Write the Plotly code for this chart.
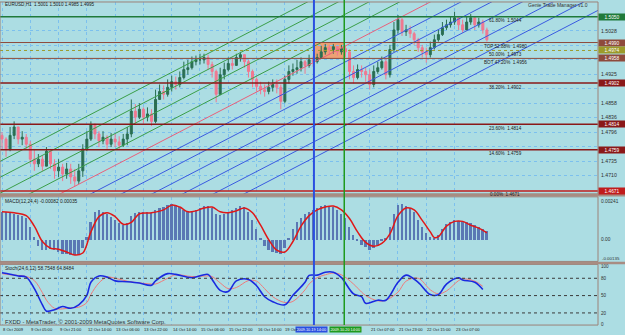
import plotly.graph_objects as go

# ---------------- data ----------------
close = [1.4782, 1.4761, 1.4790, 1.4808, 1.4782, 1.4786, 1.4771, 1.4739, 1.4729, 1.4739,
         1.4724, 1.4756, 1.4729, 1.4714, 1.4722, 1.4707, 1.4718, 1.4701, 1.4692, 1.4714,
         1.4761, 1.4782, 1.4812, 1.4793, 1.4778, 1.4786, 1.4771, 1.4782, 1.4776, 1.4769,
         1.4782, 1.4793, 1.4842, 1.4829, 1.4846, 1.4829, 1.4836, 1.4820, 1.4867, 1.4884,
         1.4878, 1.4893, 1.4905, 1.4899, 1.4914, 1.4931, 1.4935, 1.4948, 1.4952, 1.4952,
         1.4957, 1.4942, 1.4927, 1.4878, 1.4920, 1.4931, 1.4944, 1.4940, 1.4957, 1.4963,
         1.4948, 1.4927, 1.4910, 1.4895, 1.4888, 1.4884, 1.4893, 1.4899, 1.4893, 1.4863,
         1.4910, 1.4927, 1.4931, 1.4935, 1.4948, 1.4940, 1.4952, 1.4948, 1.4957, 1.4969,
         1.4978, 1.4974, 1.4980, 1.4969, 1.4976, 1.4969, 1.4927, 1.4914, 1.4931, 1.4927,
         1.4920, 1.4899, 1.4927, 1.4935, 1.4948, 1.4920, 1.4974, 1.5016, 1.5038, 1.5012,
         1.5016, 1.5008, 1.4995, 1.4978, 1.4969, 1.4963, 1.4978, 1.4995, 1.5006, 1.5021,
         1.5027, 1.5033, 1.5042, 1.5027, 1.5016, 1.5033, 1.5042, 1.5027, 1.5033, 1.5016,
         1.4995]
high = [1.4797, 1.4786, 1.4808, 1.4820, 1.4808, 1.4799, 1.4793, 1.4778, 1.4761, 1.4750,
        1.4746, 1.4765, 1.4761, 1.4739, 1.4739, 1.4729, 1.4731, 1.4729, 1.4718, 1.4729,
        1.4771, 1.4799, 1.4820, 1.4816, 1.4799, 1.4799, 1.4790, 1.4795, 1.4793, 1.4788,
        1.4793, 1.4808, 1.4867, 1.4857, 1.4859, 1.4850, 1.4850, 1.4846, 1.4888, 1.4899,
        1.4897, 1.4910, 1.4918, 1.4916, 1.4927, 1.4948, 1.4952, 1.4959, 1.4961, 1.4965,
        1.4965, 1.4963, 1.4948, 1.4931, 1.4935, 1.4946, 1.4957, 1.4957, 1.4965, 1.4969,
        1.4963, 1.4952, 1.4931, 1.4914, 1.4905, 1.4899, 1.4905, 1.4910, 1.4910, 1.4899,
        1.4918, 1.4940, 1.4944, 1.4952, 1.4957, 1.4952, 1.4963, 1.4959, 1.4965, 1.4982,
        1.4986, 1.4984, 1.4986, 1.4982, 1.4984, 1.4982, 1.4974, 1.4940, 1.4942, 1.4940,
        1.4935, 1.4931, 1.4940, 1.4948, 1.4959, 1.4957, 1.4984, 1.5033, 1.5048, 1.5042,
        1.5027, 1.5025, 1.5012, 1.4999, 1.4984, 1.4978, 1.4991, 1.5006, 1.5016, 1.5033,
        1.5038, 1.5044, 1.5055, 1.5044, 1.5038, 1.5044, 1.5050, 1.5046, 1.5042, 1.5038,
        1.5021]
low = [1.4761, 1.4744, 1.4756, 1.4782, 1.4771, 1.4769, 1.4761, 1.4729, 1.4714, 1.4722,
       1.4714, 1.4729, 1.4718, 1.4697, 1.4701, 1.4692, 1.4697, 1.4686, 1.4680, 1.4686,
       1.4701, 1.4756, 1.4778, 1.4782, 1.4765, 1.4771, 1.4761, 1.4765, 1.4765, 1.4761,
       1.4765, 1.4769, 1.4786, 1.4814, 1.4825, 1.4816, 1.4820, 1.4810, 1.4816, 1.4867,
       1.4867, 1.4873, 1.4884, 1.4888, 1.4893, 1.4910, 1.4920, 1.4931, 1.4940, 1.4942,
       1.4944, 1.4931, 1.4914, 1.4861, 1.4876, 1.4910, 1.4927, 1.4931, 1.4940, 1.4948,
       1.4935, 1.4914, 1.4893, 1.4884, 1.4878, 1.4873, 1.4878, 1.4884, 1.4880, 1.4846,
       1.4859, 1.4901, 1.4918, 1.4922, 1.4927, 1.4922, 1.4935, 1.4937, 1.4944, 1.4957,
       1.4963, 1.4963, 1.4965, 1.4961, 1.4963, 1.4957, 1.4910, 1.4901, 1.4910, 1.4914,
       1.4905, 1.4888, 1.4893, 1.4922, 1.4931, 1.4910, 1.4914, 1.4969, 1.5008, 1.5003,
       1.5003, 1.4999, 1.4984, 1.4969, 1.4957, 1.4946, 1.4957, 1.4974, 1.4991, 1.5003,
       1.5016, 1.5021, 1.5027, 1.5016, 1.5010, 1.5016, 1.5027, 1.5016, 1.5021, 1.5008,
       1.4991]
first_open = 1.4790

macd_hist = [0.00174, 0.00174, 0.00168, 0.00162, 0.00156, 0.00150, 0.00138, 0.00078, 0.00018, -0.00042,
             -0.00066, -0.00066, -0.00060, -0.00066, -0.00078, -0.00090, -0.00090, -0.00096, -0.00096, -0.00090,
             -0.00054, 0.00018, 0.00114, 0.00174, 0.00186, 0.00174, 0.00162, 0.00144, 0.00126, 0.00102,
             0.00090, 0.00102, 0.00150, 0.00168, 0.00174, 0.00174, 0.00174, 0.00168, 0.00186, 0.00198,
             0.00204, 0.00216, 0.00222, 0.00216, 0.00204, 0.00186, 0.00180, 0.00180, 0.00186, 0.00198,
             0.00210, 0.00210, 0.00198, 0.00162, 0.00156, 0.00162, 0.00174, 0.00186, 0.00198, 0.00210,
             0.00204, 0.00174, 0.00126, 0.00066, 0.00006, -0.00042, -0.00066, -0.00078, -0.00084, -0.00090,
             -0.00054, 0.00006, 0.00066, 0.00114, 0.00138, 0.00162, 0.00174, 0.00186, 0.00198, 0.00210,
             0.00216, 0.00210, 0.00204, 0.00186, 0.00162, 0.00138, 0.00078, 0.00030, -0.00006, -0.00030,
             -0.00048, -0.00066, -0.00054, -0.00030, -0.00006, 0.00006, 0.00078, 0.00162, 0.00216, 0.00222,
             0.00210, 0.00198, 0.00174, 0.00126, 0.00078, 0.00042, 0.00018, 0.00012, 0.00030, 0.00066,
             0.00096, 0.00114, 0.00126, 0.00120, 0.00114, 0.00114, 0.00102, 0.00090, 0.00078, 0.00066,
             0.00054]
macd_sig_idx = [0, 3, 6, 8, 10, 12, 14, 16, 18, 20, 22, 24, 26, 28, 30, 32, 34, 37, 40, 42,
                44, 46, 48, 50, 52, 54, 56, 58, 60, 62, 64, 66, 68, 70, 72, 74, 76, 78, 80, 82,
                84, 86, 88, 90, 92, 94, 96, 98, 100, 102, 104, 106, 107, 108, 110, 112, 114, 116, 118, 120]
macd_sig = [0.00174, 0.00168, 0.00150, 0.00084, -0.00012, -0.00054, -0.00060, -0.00078, -0.00096, -0.00084,
            0.00048, 0.00144, 0.00168, 0.00144, 0.00096, 0.00108, 0.00162, 0.00168, 0.00186, 0.00216,
            0.00204, 0.00174, 0.00180, 0.00198, 0.00204, 0.00174, 0.00168, 0.00180, 0.00198, 0.00168,
            0.00090, 0.00000, -0.00066, -0.00078, -0.00012, 0.00084, 0.00150, 0.00186, 0.00204, 0.00210,
            0.00186, 0.00132, 0.00048, -0.00018, -0.00042, -0.00024, 0.00036, 0.00150, 0.00198, 0.00186,
            0.00120, 0.00048, 0.00012, 0.00018, 0.00084, 0.00114, 0.00114, 0.00090, 0.00072, 0.00042]
macd_tick_vals = [0.00241, 0]
macd_tick_text = ["0.00241", "0.00"]
macd_min_label = "-0.00135"

stoch_idx = [0, 2, 4, 6, 8, 10, 11, 13, 15, 17, 19, 21, 22, 24, 26, 28, 31, 34, 37, 38,
             41, 43, 47, 51, 52, 54, 56, 58, 61, 63, 65, 67, 70, 72, 75, 76, 78, 80, 82, 84,
             87, 89, 90, 93, 95, 98, 100, 103, 106, 108, 110, 113, 114, 117, 119]
stoch_main = [89.5, 87, 84, 82, 62, 34, 23, 25.5, 31, 28, 34, 50.5, 73, 84, 82, 75.5, 74, 71.7, 68, 75.5,
              88, 86.7, 81, 86.7, 78, 59, 57, 75.5, 78, 67, 48, 39.5, 34, 50.5, 73, 85, 85.5, 90.5, 90.5, 81,
              53, 48, 36.7, 42, 42, 73, 85.5, 73, 51.7, 51.7, 70, 81, 77, 73, 60.5]
stoch_sig = [88, 86, 85, 83, 76, 55, 42, 28, 27, 29, 30, 38, 52, 72, 82, 80, 75, 72, 70, 70,
             80, 86, 83, 84, 83, 72, 62, 64, 76, 75, 62, 48, 38, 40, 60, 70, 81, 86, 89, 86,
             70, 56, 50, 41, 42, 56, 75, 80, 60, 53, 58, 76, 79, 75, 66]
stoch_levels = [80, 50, 20]
stoch_ticks = [100, 80, 50, 20, 0]

fib_prices = [1.5044, 1.4989, 1.4972, 1.4955, 1.4902, 1.4814, 1.4759, 1.4671]
fib_labels = ["61.80%  1.5044", "TOP 52.88%  1.4980", "50.00%  1.4973", "BOT 47.20%  1.4956",
              "38.20%  1.4902", "23.60%  1.4814", "14.60%  1.4759", "0.00%  1.4671"]
fib_box_text = ["1.5050", "1.4990", "1.4974", "1.4958", "1.4902", "1.4814", "1.4759", "1.4671"]
fib_colors = ["#1f7a3a", "#8e4a3c", "#9c9a2a", "#8e4a3c", "#8a1818", "#8a1818", "#8a1818", "#c01c1c"]
fib_dash = ["solid", "solid", "dot", "solid", "solid", "solid", "solid", "solid"]
fib_width = [1.5, 1, 1, 1, 1.5, 1.5, 1.5, 1.5]

price_ticks = [1.4704, 1.4735, 1.4766, 1.4797, 1.4828, 1.4859, 1.4890, 1.4921, 1.4952, 1.4983, 1.5014]
price_tick_text = ["1.4710", "1.4735", "", "1.4796", "1.4836", "1.4858", "", "1.4925", "", "", "1.5028"]

time_tick_idx = [0, 7, 14, 21, 28, 35, 42, 49, 56, 63, 70, 91, 98, 105, 112]
time_tick_text = ["8 Oct 2009", "9 Oct 05:00", "9 Oct 21:00", "12 Oct 14:00", "13 Oct 06:00",
                  "13 Oct 22:00", "14 Oct 14:00", "15 Oct 06:00", "15 Oct 22:00", "16 Oct 14:00",
                  "19 Oct", "21 Oct 07:00", "21 Oct 23:00", "22 Oct 15:00", "23 Oct 07:00"]

vline_idx = [77.2, 84.7]
vline_text = ["2009.10.19 14:00", "2009.10.20 14:00"]
vline_colors = ["#2a4fe0", "#1e9a1e"]

box_top, box_bot = 1.4989, 1.4955   # orange zone between the two vertical lines

chan_idx = [0, 120]
chan_price = [1.4600, 1.5139]
chan_step = 0.00341
green_k = [1, 2, 3, 4]
blue_k = [1, 2, 3, 4, 5, 6]

# ---------------- geometry ----------------
W, H = 625, 335
R = 27
PW = W - R
x_range = [-0.495, 147.5]
def pdom(top_px, bot_px):
    return [1 - bot_px / H, 1 - top_px / H]
def px_to_idx(px):
    return x_range[0] + px / PW * (x_range[1] - x_range[0])

main_dom = pdom(2, 195)
macd_dom = pdom(198, 263)
stoch_dom = pdom(266, 327)

BG = "#acdde3"
GRID = "#7cc0ee"
FONT = "Liberation Sans, Arial, sans-serif"

fig = go.Figure()

# channel lines
slope = (chan_price[1] - chan_price[0]) / (chan_idx[1] - chan_idx[0])
ex = [x_range[0] - 5, x_range[1] + 5]
def chan_line(offset, color):
    ys = [chan_price[0] + slope * (e - chan_idx[0]) + offset for e in ex]
    fig.add_trace(go.Scatter(x=ex, y=ys, mode="lines", line=dict(color=color, width=1),
                             xaxis="x", yaxis="y", hoverinfo="skip", showlegend=False))
for k in green_k:
    chan_line(k * chan_step, "#3a9e48")
for k in blue_k:
    chan_line(-k * chan_step, "#3a5ae0")
chan_line(0, "#e8607a")

opens = [first_open] + close[:-1]
hi = [max(h, o, c) for h, o, c in zip(high, opens, close)]
lo = [min(l, o, c) for l, o, c in zip(low, opens, close)]
idx = list(range(len(close)))

fig.add_trace(go.Candlestick(
    x=idx, open=opens, high=hi, low=lo, close=close, xaxis="x", yaxis="y",
    increasing=dict(line=dict(color="#2a6e52", width=1), fillcolor="#2a6e52"),
    decreasing=dict(line=dict(color="#f07890", width=1), fillcolor="#f07890"),
    whiskerwidth=0, showlegend=False, hoverinfo="skip"))

# MACD
fig.add_trace(go.Bar(x=idx, y=macd_hist, xaxis="x2", yaxis="y2", marker=dict(color="#5a78b4", line=dict(width=0)),
                     width=0.45, showlegend=False, hoverinfo="skip"))
fig.add_trace(go.Scatter(x=macd_sig_idx, y=macd_sig, mode="lines", line=dict(color="#e01818", width=1.5, shape="spline"),
                         xaxis="x2", yaxis="y2", showlegend=False, hoverinfo="skip"))

# Stochastic
fig.add_trace(go.Scatter(x=stoch_idx, y=stoch_sig, mode="lines", line=dict(color="#f07a7a", width=1, shape="spline"),
                         xaxis="x3", yaxis="y3", showlegend=False, hoverinfo="skip"))
fig.add_trace(go.Scatter(x=stoch_idx, y=stoch_main, mode="lines", line=dict(color="#1a2ae0", width=1.6, shape="spline"),
                         xaxis="x3", yaxis="y3", showlegend=False, hoverinfo="skip"))

shapes = []
annotations = []

# fib horizontal lines, labels, right boxes
for p, lab, bt, col, dsh, wd in zip(fib_prices, fib_labels, fib_box_text, fib_colors, fib_dash, fib_width):
    shapes.append(dict(type="line", xref="paper", yref="y", x0=0, x1=1, y0=p, y1=p,
                       line=dict(color=col, width=wd, dash=dsh), layer="above"))
    annotations.append(dict(xref="x", yref="y", x=124.5, y=p, text=lab, showarrow=False,
                            xanchor="center", yanchor="top", yshift=0.5,
                            font=dict(family=FONT, size=4.6, color="#202020")))
    annotations.append(dict(xref="paper", yref="y", x=1, y=p, text=bt, showarrow=False,
                            xanchor="left", yanchor="middle", bgcolor=col, width=26, height=6,
                            borderpad=0, font=dict(family=FONT, size=4.8, color="#ffffff")))

# orange zone
shapes.append(dict(type="rect", xref="x", yref="y", x0=vline_idx[0], x1=vline_idx[1], y0=box_bot, y1=box_top,
                   fillcolor="#f39a68", opacity=0.9, line=dict(width=0), layer="below"))

# stochastic levels
for lv in stoch_levels:
    shapes.append(dict(type="line", xref="paper", yref="y3", x0=0, x1=1, y0=lv, y1=lv,
                       line=dict(color="#3a3a3a", width=1, dash="dot")))

# pane frames and separators
for dom in (main_dom, macd_dom, stoch_dom):
    shapes.append(dict(type="rect", xref="paper", yref="paper", x0=0, x1=1, y0=dom[0], y1=dom[1],
                       line=dict(color="#9c8278", width=1), fillcolor="rgba(0,0,0,0)"))
for ypx in (196.5, 264.5):
    shapes.append(dict(type="line", xref="paper", yref="paper", x0=0, x1=1 + R / PW,
                       y0=1 - ypx / H, y1=1 - ypx / H, line=dict(color="#a88c82", width=2.5)))

# vertical lines + time boxes (blue box ends where the green one starts)
for vx, vc in zip(vline_idx, vline_colors):
    shapes.append(dict(type="line", xref="x", yref="paper", x0=vx, x1=vx, y0=stoch_dom[0], y1=1,
                       line=dict(color=vc, width=2 if vc == vline_colors[0] else 1.5)))
annotations.append(dict(xref="x", yref="paper", x=px_to_idx(327.5), y=1 - 331 / H, text=vline_text[0],
                        showarrow=False, xanchor="right", yanchor="middle", bgcolor=vline_colors[0],
                        borderpad=0.5, font=dict(family=FONT, size=3.8, color="#ffffff")))
annotations.append(dict(xref="x", yref="paper", x=px_to_idx(329), y=1 - 331 / H, text=vline_text[1],
                        showarrow=False, xanchor="left", yanchor="middle", bgcolor=vline_colors[1],
                        borderpad=0.5, font=dict(family=FONT, size=3.8, color="#ffffff")))

# time labels
for tx, tt in zip(time_tick_idx, time_tick_text):
    annotations.append(dict(xref="x", yref="paper", x=tx, y=1 - 331 / H, text=tt, showarrow=False,
                            xanchor="left", yanchor="middle", xshift=-2 if tt == "19 Oct" else -1,
                            font=dict(family=FONT, size=4.1, color="#202020")))

# MACD minimum label (kept clear of the stochastic 100 label)
annotations.append(dict(xref="paper", yref="paper", x=1, y=1 - 260.5 / H, text=macd_min_label,
                        showarrow=False, xanchor="left", yanchor="middle", xshift=2,
                        font=dict(family=FONT, size=4.4, color="#303030")))

# header / footer texts
annotations += [
    dict(xref="paper", yref="paper", x=0.005, y=1 - 5 / H, text="EURUSD,H1  1.5001 1.5010 1.4985 1.4995",
         showarrow=False, xanchor="left", yanchor="middle", font=dict(family=FONT, size=4.6, color="#202020")),
    dict(xref="paper", yref="paper", x=590 / PW, y=1 - 5 / H, text="Genie Trade Manager v1.0",
         showarrow=False, xanchor="right", yanchor="middle", font=dict(family=FONT, size=5, color="#303030")),
    dict(xref="paper", yref="paper", x=0.005, y=1 - 203 / H, text="MACD(12,24,4) -0.00082 0.00035",
         showarrow=False, xanchor="left", yanchor="middle", font=dict(family=FONT, size=4.8, color="#202020")),
    dict(xref="paper", yref="paper", x=0.005, y=1 - 270 / H, text="Stoch(24,6,12) 58.7548 64.8484",
         showarrow=False, xanchor="left", yanchor="middle", font=dict(family=FONT, size=4.8, color="#202020")),
    dict(xref="paper", yref="paper", x=0.005, y=1 - 324 / H,
         text="FXDD - MetaTrader, \u00a9 2001-2009 MetaQuotes Software Corp.",
         showarrow=False, xanchor="left", yanchor="middle", font=dict(family=FONT, size=5.8, color="#303030")),
]

xcommon = dict(range=x_range, showticklabels=False, showgrid=True, gridcolor=GRID, griddash="dot",
               gridwidth=1, tickvals=time_tick_idx, zeroline=False, showline=False, ticks="",
               fixedrange=True)

fig.update_layout(
    width=W, height=H, margin=dict(l=0, r=R, t=0, b=0),
    paper_bgcolor=BG, plot_bgcolor=BG, showlegend=False, hovermode=False, bargap=0,
    shapes=shapes, annotations=annotations,
    xaxis=dict(domain=[0, 1], anchor="y", rangeslider=dict(visible=False), **xcommon),
    xaxis2=dict(domain=[0, 1], anchor="y2", matches="x", **xcommon),
    xaxis3=dict(domain=[0, 1], anchor="y3", matches="x", **xcommon),
    yaxis=dict(domain=main_dom, anchor="x", side="right", range=[1.46647, 1.50759],
               tickvals=price_ticks, ticktext=price_tick_text, showgrid=True, gridcolor=GRID,
               griddash="dot", zeroline=False, ticks="", ticklabelstandoff=2,
               tickfont=dict(family=FONT, size=5.2, color="#303030")),
    yaxis2=dict(domain=macd_dom, anchor="x2", side="right", range=[-0.00137, 0.00268],
                tickvals=macd_tick_vals, ticktext=macd_tick_text,
                showgrid=False, zeroline=False, ticks="", ticklabelstandoff=2,
                tickfont=dict(family=FONT, size=4.8, color="#303030")),
    yaxis3=dict(domain=stoch_dom, anchor="x3", side="right", range=[-1, 104],
                tickvals=stoch_ticks, ticktext=[str(v) for v in stoch_ticks],
                showgrid=False, zeroline=False, ticks="", ticklabelstandoff=2,
                tickfont=dict(family=FONT, size=4.6, color="#303030")),
)

fig.write_html("out.html")
